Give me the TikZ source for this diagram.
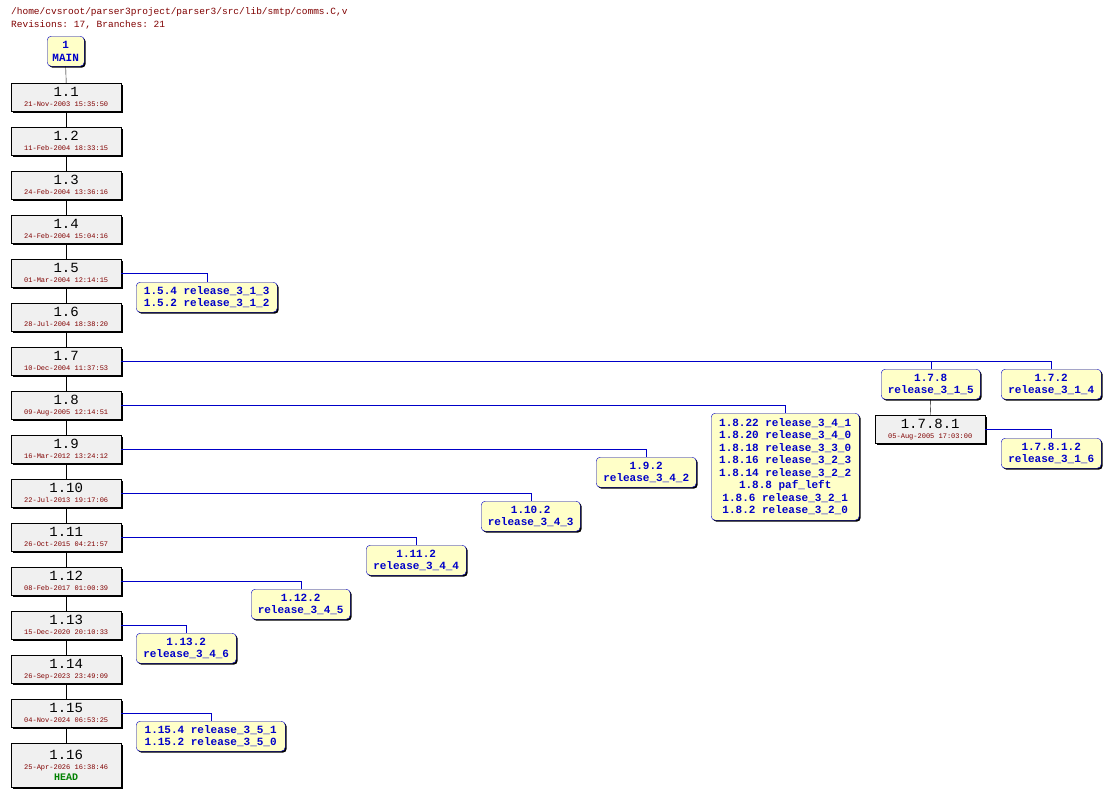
\documentclass[tikz,border=0pt]{standalone}
\usepackage{fontspec}
\setmonofont{Liberation Mono}
\usetikzlibrary{shadows}
\definecolor{dred}{RGB}{128,0,0}
\definecolor{bblue}{RGB}{0,0,200}
\definecolor{byel}{RGB}{255,255,200}
\definecolor{rgray}{RGB}{240,240,240}
\begin{document}
\begin{tikzpicture}[x=1pt,y=-1pt,
  shd/.style={drop shadow={shadow xshift=1.5pt,shadow yshift=-1.5pt,fill=black,opacity=1}},
  rev/.style={draw=black,fill=rgray,shd,anchor=north west,inner sep=0pt,minimum width=110pt,minimum height=28pt,align=center,font=\ttfamily},
  br/.style={draw=bblue,fill=byel,rounded corners=4pt,shd,anchor=north west,inner sep=0pt,minimum height=30pt,align=center,font=\ttfamily\bfseries\fontsize{11}{12.5}\selectfont,text=bblue},
  bl/.style={draw=bblue},
  tl/.style={draw=black}]
\useasboundingbox (0,0) rectangle (1111,795);
\fill[white] (0,0) rectangle (1111,795);
\node[anchor=west,font=\ttfamily\fontsize{9.5}{10}\selectfont,text=dred,inner sep=0] (t1) at (11,12) {/home/cvsroot/parser3project/parser3/src/lib/smtp/comms.C,v};
\node[anchor=west,font=\ttfamily\fontsize{9.5}{10}\selectfont,text=dred,inner sep=0] (t2) at (11,25) {Revisions: 17, Branches: 21};
\node[br,minimum width=37pt] (main) at (47,36) {1\\MAIN};
\newcommand{\revbox}[4]{\node[rev] (#1) at (11,#2) {\fontsize{14}{14}\selectfont #3\\[-2pt]{\fontsize{7}{8}\selectfont\color{dred}#4}};}
\revbox{r1}{83}{1.1}{21-Nov-2003 15:35:50}
\revbox{r2}{127}{1.2}{11-Feb-2004 18:33:15}
\revbox{r3}{171}{1.3}{24-Feb-2004 13:36:16}
\revbox{r4}{215}{1.4}{24-Feb-2004 15:04:16}
\revbox{r5}{259}{1.5}{01-Mar-2004 12:14:15}
\revbox{r6}{303}{1.6}{28-Jul-2004 18:38:20}
\revbox{r7}{347}{1.7}{10-Dec-2004 11:37:53}
\revbox{r8}{391}{1.8}{09-Aug-2005 12:14:51}
\revbox{r9}{435}{1.9}{16-Mar-2012 13:24:12}
\revbox{r10}{479}{1.10}{22-Jul-2013 19:17:06}
\revbox{r11}{523}{1.11}{26-Oct-2015 04:21:57}
\revbox{r12}{567}{1.12}{08-Feb-2017 01:00:39}
\revbox{r13}{611}{1.13}{15-Dec-2020 20:10:33}
\revbox{r14}{655}{1.14}{26-Sep-2023 23:49:09}
\revbox{r15}{699}{1.15}{04-Nov-2024 06:53:25}
\node[rev,minimum height=44pt] (r16) at (11,743) {\fontsize{14}{14}\selectfont 1.16\\[-2pt]{\fontsize{7}{8}\selectfont\color{dred}25-Apr-2026 16:38:46}\\[-1pt]{\bfseries\fontsize{10}{11}\selectfont\color{green!50!black}HEAD}};
\node[rev,minimum width=110pt] (r781) at (875,415) {\fontsize{14}{14}\selectfont 1.7.8.1\\[-2pt]{\fontsize{7}{8}\selectfont\color{dred}05-Aug-2005 17:03:00}};
\node[br,minimum width=141pt] (b5) at (136,282) {1.5.4 release\_3\_1\_3\\1.5.2 release\_3\_1\_2};
\node[br,minimum width=99pt] (b78) at (881,369) {1.7.8\\release\_3\_1\_5};
\node[br,minimum width=100pt] (b72) at (1001,369) {1.7.2\\release\_3\_1\_4};
\node[br,minimum width=100pt] (b7812) at (1001,438) {1.7.8.1.2\\release\_3\_1\_6};
\node[br,minimum width=148pt,minimum height=107pt] (b8) at (711,413) {1.8.22 release\_3\_4\_1\\1.8.20 release\_3\_4\_0\\1.8.18 release\_3\_3\_0\\1.8.16 release\_3\_2\_3\\1.8.14 release\_3\_2\_2\\1.8.8 paf\_left\\1.8.6 release\_3\_2\_1\\1.8.2 release\_3\_2\_0};
\node[br,minimum width=100pt] (b9) at (596,457) {1.9.2\\release\_3\_4\_2};
\node[br,minimum width=99pt] (b10) at (481,501) {1.10.2\\release\_3\_4\_3};
\node[br,minimum width=100pt] (b11) at (366,545) {1.11.2\\release\_3\_4\_4};
\node[br,minimum width=99pt] (b12) at (251,589) {1.12.2\\release\_3\_4\_5};
\node[br,minimum width=100pt] (b13) at (136,633) {1.13.2\\release\_3\_4\_6};
\node[br,minimum width=149pt] (b15) at (136,721) {1.15.4 release\_3\_5\_1\\1.15.2 release\_3\_5\_0};
\begin{scope}[on background layer/.try]
\draw[tl] (main.south) -- (r1.north);
\foreach \a/\b in {r1/r2,r2/r3,r3/r4,r4/r5,r5/r6,r6/r7,r7/r8,r8/r9,r9/r10,r10/r11,r11/r12,r12/r13,r13/r14,r14/r15,r15/r16,b78/r781}
  \draw[tl] (\a.south) -- (\b.north);
\foreach \a/\b in {r5/b5,r7/b78,r7/b72,r781/b7812,r8/b8,r9/b9,r10/b10,r11/b11,r12/b12,r13/b13,r15/b15}
  \draw[bl] (\a.east) -| (\b.north);
\end{scope}
\end{tikzpicture}
\end{document}
